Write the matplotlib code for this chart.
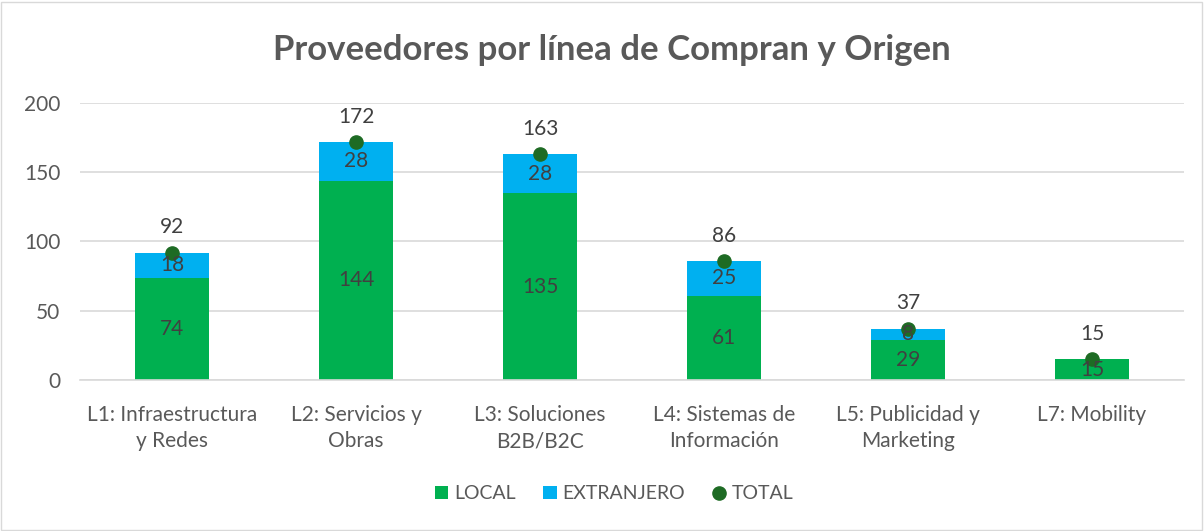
import matplotlib
matplotlib.use("Agg")
import matplotlib.pyplot as plt
import numpy as np
from matplotlib.patches import Rectangle

plt.rcParams["font.family"] = ["Lato", "DejaVu Sans"]

categorias = ["L1: Infraestructura\ny Redes", "L2: Servicios y\nObras", "L3: Soluciones\nB2B/B2C",
              "L4: Sistemas de\nInformación", "L5: Publicidad y\nMarketing", "L7: Mobility"]
local = [74, 144, 135, 61, 29, 15]
extranjero = [18, 28, 28, 25, 8, 0]
total = [92, 172, 163, 86, 37, 15]

C_LOCAL = "#00B050"
C_EXT = "#00B0F0"
C_TOT = "#1E6B24"
C_TXT = "#404040"

fig = plt.figure(figsize=(12.04, 5.31), dpi=100)
ax = fig.add_axes([0.0664, 0.2844, 0.917, 0.5216])
fig.patches.append(Rectangle((0.001, 0.002), 0.997, 0.995, transform=fig.transFigure,
                             fill=False, edgecolor="#D9D9D9", lw=1))

x = np.arange(len(categorias))
w = 0.40
b1 = ax.bar(x, local, w, color=C_LOCAL, label="LOCAL", zorder=2)
b2 = ax.bar(x, extranjero, w, bottom=local, color=C_EXT, label="EXTRANJERO", zorder=2)
p, = ax.plot(x, total, "o", color=C_TOT, ms=9.5, label="TOTAL", zorder=3)

for i in range(len(x)):
    ax.text(x[i], local[i] / 2, str(local[i]), ha="center", va="center", fontsize=15, color=C_TXT, zorder=4)
    if extranjero[i] > 0:
        ax.text(x[i], local[i] + extranjero[i] / 2, str(extranjero[i]), ha="center", va="center",
                fontsize=15, color=C_TXT, zorder=4)
    ax.annotate(str(total[i]), (x[i], total[i]), xytext=(0, 11), textcoords="offset points",
                ha="center", va="bottom", fontsize=15, color=C_TXT, zorder=4)

ax.set_xlim(-0.5, len(x) - 0.5)
ax.set_ylim(0, 200)
ax.set_yticks([0, 50, 100, 150, 200])
ax.set_xticks(x)
ax.set_xticklabels(categorias, fontsize=15, color="#595959", linespacing=1.4)
ax.tick_params(axis="y", labelsize=15, colors="#595959", length=0, pad=14)
ax.tick_params(axis="x", length=0, pad=18)
ax.yaxis.grid(True, color="#D9D9D9", lw=1.2, zorder=0)
ax.set_axisbelow(True)
for s in ["top", "right", "left"]:
    ax.spines[s].set_visible(False)
ax.spines["bottom"].set_color("#D9D9D9")
ax.spines["bottom"].set_linewidth(1.2)

fig.text(0.508, 0.905, "Proveedores por línea de Compran y Origen", ha="center", va="center",
         fontsize=25, fontweight="bold", color="#595959")

fig.legend([b1, b2, p], ["LOCAL", "EXTRANJERO", "TOTAL"], loc="center", bbox_to_anchor=(0.51, 0.07),
           ncol=3, frameon=False, fontsize=14, handlelength=0.7, handleheight=0.7, handletextpad=0.3,
           columnspacing=1.4, labelcolor="#595959")

fig.savefig("out.png", dpi=100)
